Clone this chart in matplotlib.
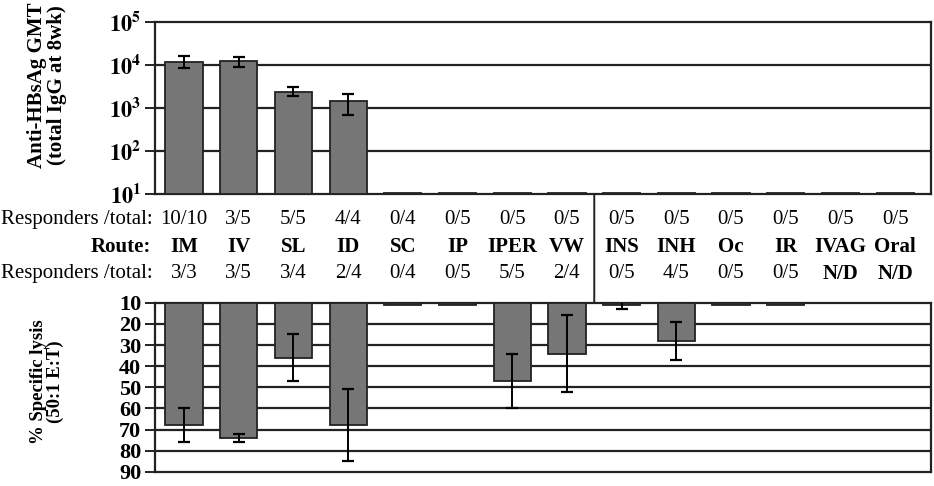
import numpy as np
import matplotlib
matplotlib.use("Agg")
import matplotlib.pyplot as plt
import matplotlib.transforms as mtransforms
from matplotlib.patches import ConnectionPatch

plt.rcParams['font.family'] = ['Liberation Serif', 'DejaVu Serif']
plt.rcParams['mathtext.fontset'] = 'stix'

# categories (route of administration)
routes = ['IM', 'IV', 'SL', 'ID', 'SC', 'IP', 'IPER', 'VW',
          'INS', 'INH', 'Oc', 'IR', 'IVAG', 'Oral']
resp_antibody = ['10/10', '3/5', '5/5', '4/4', '0/4', '0/5', '0/5', '0/5',
                 '0/5', '0/5', '0/5', '0/5', '0/5', '0/5']
resp_ctl = ['3/3', '3/5', '3/4', '2/4', '0/4', '0/5', '5/5', '2/4',
            '0/5', '4/5', '0/5', '0/5', 'N/D', 'N/D']

# anti-HBsAg GMT (log scale), with lower / upper ends of the error bars
gmt = [11700, 12400, 2360, 1450, 10.6, 10.6, 10.6, 10.6,
       10.6, 10.6, 10.6, 10.6, 10.6, 10.6]
gmt_low = [8500, 9000, 1900, 690] + [np.nan] * 10
gmt_high = [16000, 15000, 3100, 2100] + [np.nan] * 10

# % specific lysis (50:1 E:T), N/D -> nan
lysis = [68, 74, 36, 68, 11, 11, 47, 34, 11, 28, 11, 11, np.nan, np.nan]
lysis_err = [8, 2, 11, 17, np.nan, np.nan, 13, 18, 2, 9, np.nan, np.nan, np.nan, np.nan]

bar_face = '#767676'
line_col = '#222222'
x = np.arange(len(routes))
width = 0.68

fig = plt.figure(figsize=(9.34, 4.86), dpi=100)
ax_top = fig.add_axes([0.166, 0.601, 0.831, 0.354])
ax_bot = fig.add_axes([0.166, 0.029, 0.831, 0.348])

# ---- top panel: antibody titres
ax_top.set_yscale('log')
ax_top.set_ylim(10, 1e5)
ax_top.set_xlim(-0.53, 13.66)
ax_top.bar(x, np.array(gmt) - 10, bottom=10, width=width,
           color=bar_face, edgecolor=line_col, linewidth=1.3, zorder=3)
lo = np.array(gmt) - np.array(gmt_low)
hi = np.array(gmt_high) - np.array(gmt)
ax_top.errorbar(x, gmt, yerr=[lo, hi], fmt='none', ecolor='black',
                elinewidth=1.4, capsize=4, capthick=1.6, zorder=4)
ax_top.set_yticks([10, 1e2, 1e3, 1e4, 1e5])
ax_top.set_yticklabels([r'$\mathbf{10^{%d}}$' % k for k in range(1, 6)])
ax_top.minorticks_off()
ax_top.set_xticks([])
for yv in [1e2, 1e3, 1e4]:
    ax_top.axhline(yv, color=line_col, lw=1.6, zorder=1)

# ---- bottom panel: CTL lysis (inverted, bars hanging from 10)
ax_bot.set_ylim(90, 10)
ax_bot.set_xlim(-0.53, 13.66)
ax_bot.bar(x, np.array(lysis) - 10, bottom=10, width=width,
           color=bar_face, edgecolor=line_col, linewidth=1.3, zorder=3)
ax_bot.errorbar(x, lysis, yerr=lysis_err, fmt='none', ecolor='black',
                elinewidth=1.4, capsize=4, capthick=1.6, zorder=4)
ax_bot.set_yticks(np.arange(10, 91, 10))
ax_bot.set_xticks([])
for yv in np.arange(20, 81, 10):
    ax_bot.axhline(yv, color=line_col, lw=1.6, zorder=1)

for ax in (ax_top, ax_bot):
    for sp in ax.spines.values():
        sp.set_color(line_col)
        sp.set_linewidth(1.6)
    ax.tick_params(axis='y', length=7, width=1.4, color=line_col, pad=3)
    for lab in ax.get_yticklabels():
        lab.set_fontsize(16)
        lab.set_fontweight('bold')

# ---- text rows between panels
blend = mtransforms.blended_transform_factory(ax_top.transData, fig.transFigure)
rows_y = [0.5485, 0.4925, 0.4365]
fs = 15
fig.text(0.164, rows_y[0], 'Responders /total:', ha='right', va='center', fontsize=fs)
fig.text(0.162, rows_y[1], 'Route:', ha='right', va='center', fontsize=fs, fontweight='bold')
fig.text(0.164, rows_y[2], 'Responders /total:', ha='right', va='center', fontsize=fs)
for i in range(len(routes)):
    ax_top.text(x[i], rows_y[0], resp_antibody[i], transform=blend,
                ha='center', va='center', fontsize=fs)
    ax_top.text(x[i], rows_y[1], routes[i], transform=blend,
                ha='center', va='center', fontsize=fs, fontweight='bold')
    ax_top.text(x[i], rows_y[2], resp_ctl[i], transform=blend,
                ha='center', va='center', fontsize=fs,
                fontweight='bold' if resp_ctl[i] == 'N/D' else 'normal')

# divider between the two groups of routes
div = ConnectionPatch(xyA=(7.5, 10), coordsA=ax_top.transData,
                      xyB=(7.5, 10), coordsB=ax_bot.transData,
                      color=line_col, lw=1.4)
fig.add_artist(div)

# axis titles
fig.text(0.05, 0.825, 'Anti-HBsAg GMT\n(total IgG at 8wk)', rotation=90,
         ha='center', va='center', fontsize=15, fontweight='bold',
         linespacing=1.0)
fig.text(0.05, 0.215, '% Specific lysis\n(50:1 E:T)', rotation=90,
         ha='center', va='center', fontsize=13.5, fontweight='bold',
         linespacing=1.0)

fig.savefig('out.png', dpi=100, facecolor='white')
